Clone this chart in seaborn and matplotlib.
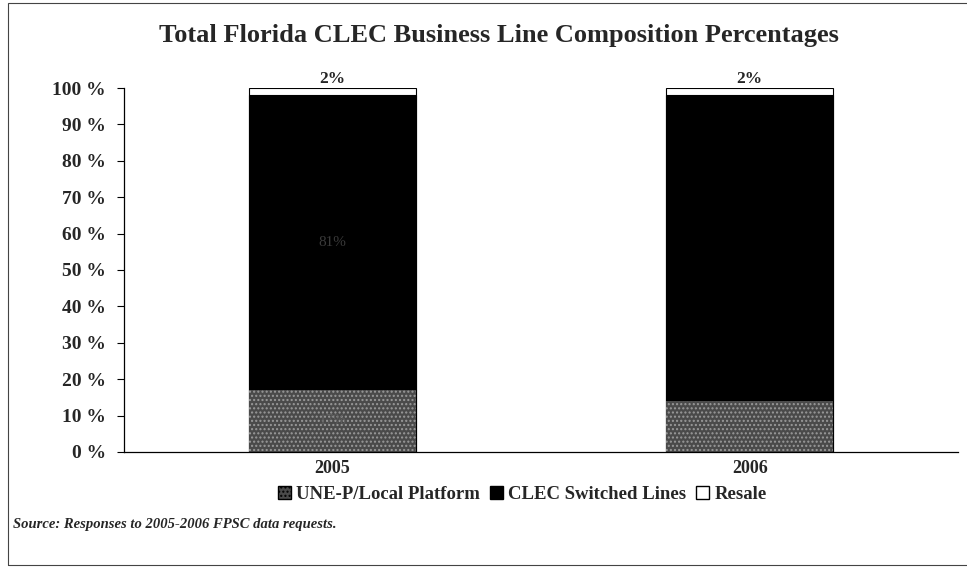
import matplotlib
matplotlib.use("Agg")
import matplotlib.pyplot as plt
import seaborn as sns
import pandas as pd
import numpy as np
from matplotlib.patches import Patch, Rectangle

years = ["2005", "2006"]
une_p = [17, 14]
clec_switched = [81, 84]
resale = [2, 2]
series_names = ["UNE-P/Local Platform", "CLEC Switched Lines", "Resale"]
yticks = list(range(0, 101, 10))

sns.set_theme(style="white")
plt.rcParams["font.family"] = ["Liberation Serif", "DejaVu Serif"]

fig = plt.figure(figsize=(9.67, 5.72), dpi=100)
ax = fig.add_axes([0.128, 0.21, 0.863, 0.636])

# cumulative layers, drawn largest first so smaller ones sit on top
low = np.array(une_p)
mid = low + np.array(clec_switched)
top = mid + np.array(resale)
df = pd.DataFrame({"year": years, "low": low, "mid": mid, "top": top})

sns.barplot(data=df, x="year", y="top", color="white", edgecolor="black",
            linewidth=0.8, width=0.4, saturation=1, ax=ax)
sns.barplot(data=df, x="year", y="mid", color="black", edgecolor="black",
            linewidth=0.8, width=0.4, saturation=1, ax=ax)
sns.barplot(data=df, x="year", y="low", color="#4a4a4a", edgecolor="black",
            linewidth=0.8, width=0.4, saturation=1, ax=ax)
for p in ax.patches[-2:]:
    p.set_hatch("....")
    p.set_edgecolor("#9a9a9a")
    p.set_linewidth(0)

# value labels (faint inside the bars, as in the scan)
for i in range(len(years)):
    ax.text(i, top[i] + 0.3, f"{resale[i]}%", ha="center", va="bottom",
            fontsize=12.5, fontweight="bold")
ax.text(0, low[0] / 2, f"{une_p[0]}%", ha="center", va="center",
        fontsize=11, color="#5e5e5e")
ax.text(0, low[0] + clec_switched[0] / 2, f"{clec_switched[0]}%", ha="center",
        va="center", fontsize=11, color="#3a3a3a")

ax.set_ylim(0, 100)
ax.set_xlim(-0.5, 1.5)
ax.set_yticks(yticks)
ax.set_yticklabels([f"{t} %" for t in yticks], fontsize=14, fontweight="bold")
ax.set_xticklabels(years, fontsize=13, fontweight="bold")
ax.set_xlabel("")
ax.set_ylabel("")
ax.tick_params(axis="y", direction="out", length=5, width=0.8, left=True,
               color="black", pad=8)
ax.tick_params(axis="x", length=0, pad=6)
for s in ["top", "right"]:
    ax.spines[s].set_visible(False)
for s in ["left", "bottom"]:
    ax.spines[s].set_color("black")
    ax.spines[s].set_linewidth(0.9)

fig.text(0.516, 0.938, "Total Florida CLEC Business Line Composition Percentages",
         ha="center", va="center", fontsize=19, fontweight="bold")

handles = [
    Patch(facecolor="#4a4a4a", edgecolor="black", hatch="...."),
    Patch(facecolor="black", edgecolor="black"),
    Patch(facecolor="white", edgecolor="black"),
]
fig.legend(handles, series_names, loc="center", bbox_to_anchor=(0.54, 0.135),
           ncol=3, frameon=False, prop={"family": "Liberation Serif", "weight": "bold", "size": 13.5},
           handlelength=0.7, handleheight=0.7, handletextpad=0.3, columnspacing=0.5)

fig.text(0.013, 0.083, "Source: Responses to 2005-2006 FPSC data requests.",
         ha="left", va="center", fontsize=10.5, fontweight="bold", style="italic")

# scanned page frame
fig.patches.append(Rectangle((0.008, 0.012), 1.2, 0.982, transform=fig.transFigure,
                             fill=False, edgecolor="#444444", linewidth=0.8))

fig.savefig("out.png", dpi=100)
